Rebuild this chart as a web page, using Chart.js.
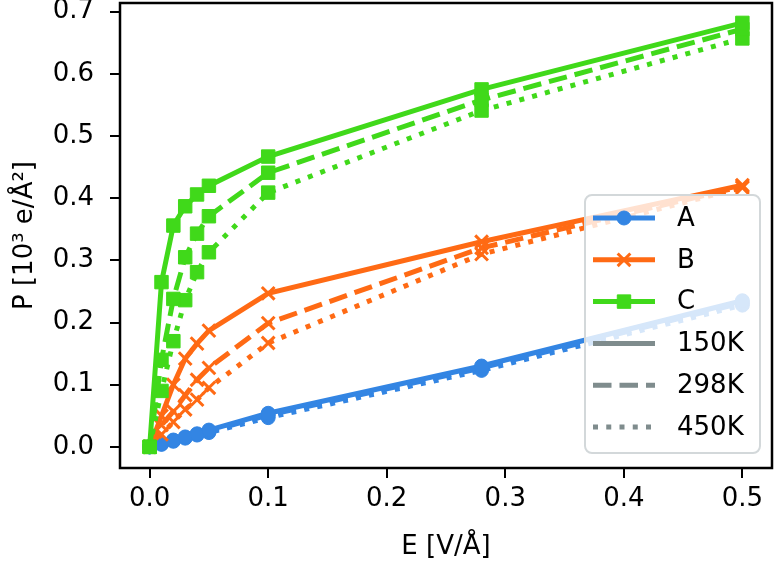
<!DOCTYPE html>
<html>
<head>
<meta charset="utf-8">
<script src="https://cdn.jsdelivr.net/npm/chart.js@4.4.0/dist/chart.umd.min.js"></script>
<style>
  html, body { margin: 0; padding: 0; background: #fff; }
  #wrap { width: 776px; height: 565px; }
</style>
</head>
<body>
<div id="wrap"><canvas id="myChart" width="776" height="565"></canvas></div>
<script>
// field strength E [V/Å]
var fields = [0, 0.01, 0.02, 0.03, 0.04, 0.05, 0.1, 0.28, 0.5];
var materials = ['A', 'B', 'C'];
var temps = ['150K', '298K', '450K'];

// polarisation P [10^3 e/Å^2], one array per material and temperature
var A_150 = [0, 0.006, 0.011, 0.016, 0.021, 0.027, 0.054, 0.130, 0.235];
var A_298 = [0, 0.005, 0.010, 0.015, 0.020, 0.025, 0.051, 0.127, 0.232];
var A_450 = [0, 0.004, 0.009, 0.014, 0.019, 0.023, 0.047, 0.123, 0.228];

var B_150 = [0, 0.050, 0.100, 0.142, 0.166, 0.187, 0.247, 0.330, 0.421];
var B_298 = [0, 0.035, 0.057, 0.083, 0.108, 0.127, 0.199, 0.320, 0.419];
var B_450 = [0, 0.020, 0.040, 0.060, 0.076, 0.095, 0.167, 0.310, 0.417];

var C_150 = [0, 0.265, 0.356, 0.387, 0.406, 0.420, 0.467, 0.575, 0.682];
var C_298 = [0, 0.140, 0.238, 0.305, 0.343, 0.371, 0.441, 0.558, 0.672];
var C_450 = [0, 0.090, 0.170, 0.236, 0.281, 0.313, 0.409, 0.541, 0.657];

var yTicks = [0, 0.1, 0.2, 0.3, 0.4, 0.5, 0.6, 0.7];
var xTicks = [0, 0.1, 0.2, 0.3, 0.4, 0.5];

var colors = { A: '#3385e3', B: '#ff6a14', C: '#40d91a' };
var markers = { A: 'circle', B: 'crossRot', C: 'rect' };
var markerSize = { A: 7, B: 9, C: 9.5 };
var lw = 5;
var dashes = { '150K': [], '298K': [3.7 * lw, 1.6 * lw], '450K': [1 * lw, 1.65 * lw] };
var series = {
    A: [A_150, A_298, A_450],
    B: [B_150, B_298, B_450],
    C: [C_150, C_298, C_450]
};
var FONT = 'DejaVu Sans';
var FSIZE = 26;

var datasets = [];
materials.forEach(function (m, mi) {
    temps.forEach(function (t, ti) {
        datasets.push({
            label: m + ' ' + t,
            data: fields.map(function (x, i) { return { x: x, y: series[m][ti][i] }; }),
            borderColor: colors[m],
            backgroundColor: colors[m],
            borderWidth: lw,
            borderDash: dashes[t],
            borderCapStyle: 'butt',
            tension: 0,
            pointStyle: markers[m],
            pointRadius: markerSize[m],
            pointBorderWidth: m == 'B' ? 3 : 1,
            pointBackgroundColor: colors[m],
            pointBorderColor: colors[m],
            order: (2 - mi) * 3 + ti
        });
    });
});

// black frame around the plot area
var framePlugin = {
    id: 'frame',
    afterDatasetsDraw: function (chart) {
        var a = chart.chartArea, c = chart.ctx;
        c.save();
        c.strokeStyle = '#000';
        c.lineWidth = 2.5;
        c.strokeRect(a.left, a.top, a.right - a.left, a.bottom - a.top);
        c.restore();
    }
};

// legend box in lower right corner
var legendPlugin = {
    id: 'boxLegend',
    afterDraw: function (chart) {
        var c = chart.ctx;
        var x0 = 585, y0 = 195, w = 175, h = 258, r = 7;
        c.save();
        c.beginPath();
        c.roundRect(x0, y0, w, h, r);
        c.fillStyle = 'rgba(255,255,255,0.8)';
        c.fill();
        c.lineWidth = 2;
        c.strokeStyle = '#d3d8da';
        c.stroke();

        var items = [];
        materials.forEach(function (m) { items.push({ text: m, color: colors[m], dash: [], marker: m }); });
        temps.forEach(function (t) { items.push({ text: t, color: '#7f8c8d', dash: dashes[t], marker: null }); });

        var lx1 = 593, lx2 = 655, tx = 677;
        items.forEach(function (it, i) {
            var y = 218 + i * 41.8;
            c.beginPath();
            c.setLineDash(it.dash);
            c.lineCap = 'butt';
            c.lineWidth = lw;
            c.strokeStyle = it.color;
            c.moveTo(lx1, y);
            c.lineTo(lx2, y);
            c.stroke();
            c.setLineDash([]);
            if (it.marker) {
                c.fillStyle = it.color;
                c.strokeStyle = it.color;
                c.lineWidth = it.marker == 'B' ? 3 : 1;
                Chart.helpers.drawPoint(c, {
                    pointStyle: markers[it.marker],
                    radius: markerSize[it.marker],
                    borderWidth: c.lineWidth
                }, (lx1 + lx2) / 2, y);
            }
            c.fillStyle = '#000';
            c.font = FSIZE + 'px "' + FONT + '"';
            c.textBaseline = 'middle';
            c.textAlign = 'left';
            c.fillText(it.text, tx, y + 1);
        });
        c.restore();
    }
};

window.onload = function () {
    const ctx = document.getElementById('myChart');
    const myChart = new Chart(ctx, {
        type: 'line',
        data: { datasets: datasets },
        options: {
            responsive: false,
            animation: false,
            events: [],
            layout: { autoPadding: false, padding: { top: 3, right: 4, left: 0, bottom: 0 } },
            plugins: {
                legend: { display: false },
                tooltip: { enabled: false }
            },
            scales: {
                x: {
                    type: 'linear',
                    min: -0.025,
                    max: 0.525,
                    afterFit: function (s) { s.height = 97; s.paddingLeft = 0; s.paddingRight = 0; },
                    afterBuildTicks: function (s) { s.ticks = xTicks.map(function (v) { return { value: v }; }); },
                    border: { display: false },
                    grid: { drawOnChartArea: false, drawTicks: true, tickLength: 10, color: '#000', lineWidth: 2 },
                    ticks: {
                        color: '#000',
                        padding: 6,
                        maxRotation: 0,
                        font: { family: FONT, size: FSIZE },
                        callback: function (v) { return v.toFixed(1); }
                    },
                    title: {
                        display: true,
                        text: 'E [V/Å]',
                        color: '#000',
                        font: { family: FONT, size: FSIZE },
                        padding: { top: 0, bottom: 2 }
                    }
                },
                y: {
                    type: 'linear',
                    min: -0.034,
                    max: 0.714,
                    afterFit: function (s) { s.width = 120; s.paddingTop = 0; s.paddingBottom = 0; },
                    afterBuildTicks: function (s) { s.ticks = yTicks.map(function (v) { return { value: v }; }); },
                    border: { display: false },
                    grid: { drawOnChartArea: false, drawTicks: true, tickLength: 10, color: '#000', lineWidth: 2 },
                    ticks: {
                        color: '#000',
                        padding: 16,
                        font: { family: FONT, size: FSIZE },
                        callback: function (v) { return v.toFixed(1); }
                    },
                    title: {
                        display: true,
                        text: 'P [10³ e/Å²]',
                        color: '#000',
                        font: { family: FONT, size: FSIZE },
                        padding: { top: 10, bottom: 0 }
                    }
                }
            }
        },
        plugins: [framePlugin, legendPlugin]
    });
};
</script>
</body>
</html>
